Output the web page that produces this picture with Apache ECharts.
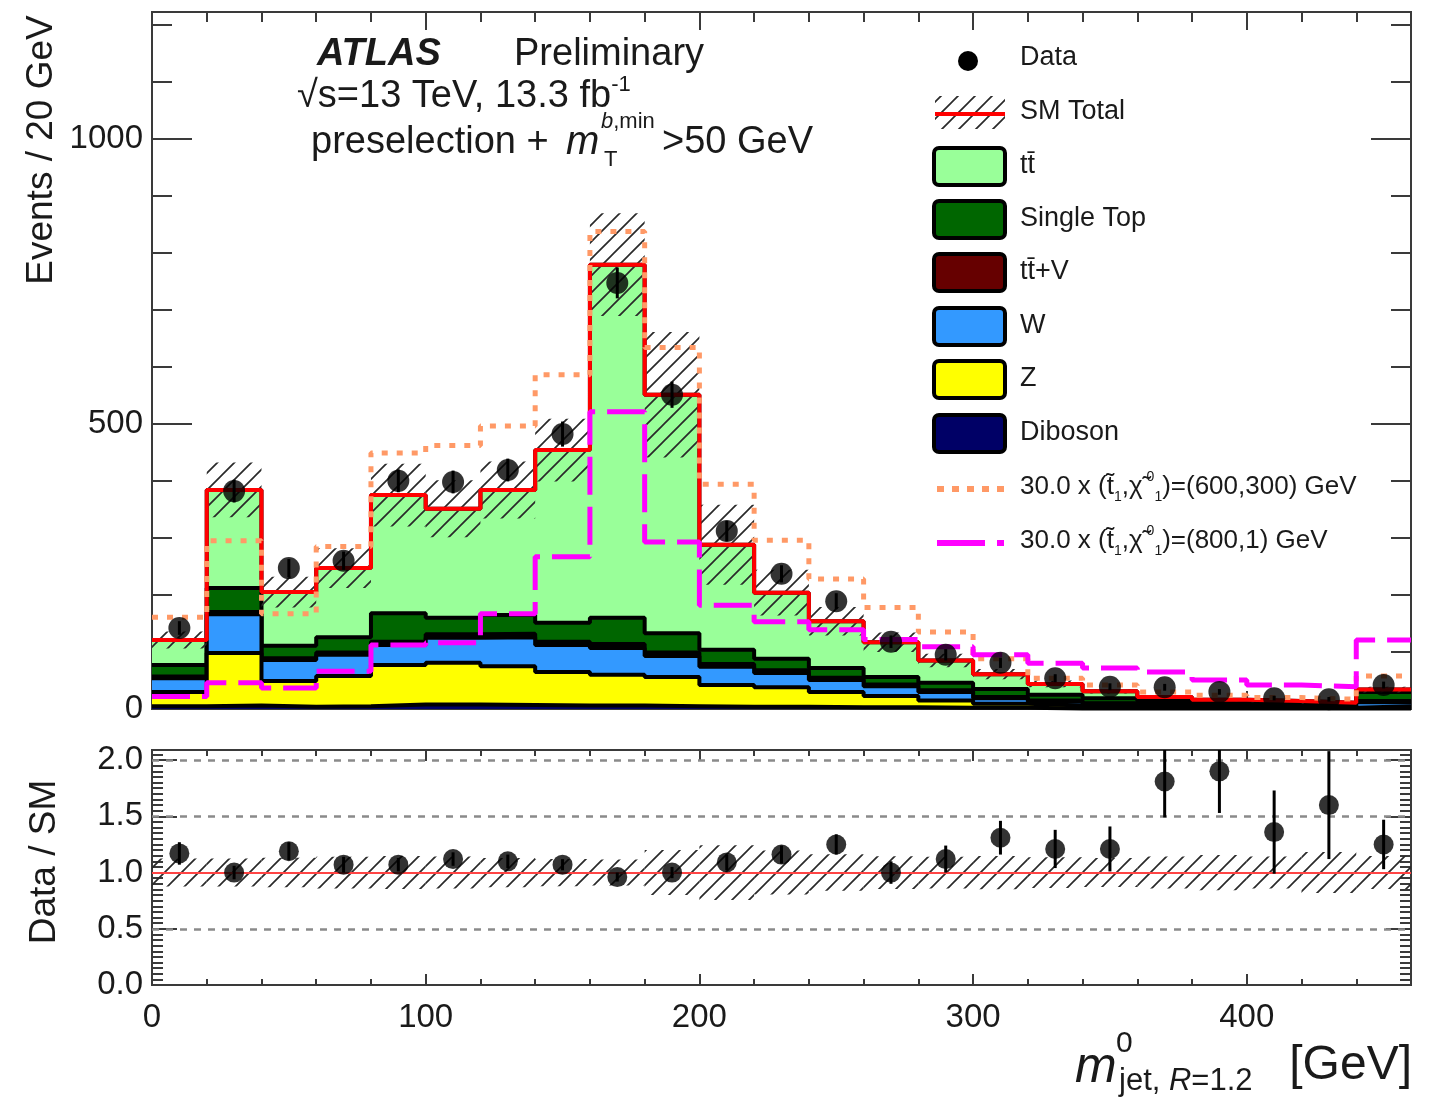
<!DOCTYPE html>
<html><head><meta charset="utf-8">
<script src="https://cdn.jsdelivr.net/npm/echarts@6/dist/echarts.min.js"></script>
<style>html,body{margin:0;padding:0;background:#fff}#c{width:1430px;height:1099px}</style>
</head><body><div id="c"></div>
<script>
// ---------------- data ----------------
const binEdges = [0,20,40,60,80,100,120,140,160,180,200,220,240,260,280,300,320,340,360,380,400,420,440,460];
const diboson  = [5,6,4,5,8,8,7,6,6,5,4,4,3,3,2,2,1,1,1,1,1,1,1];
const zjets    = [25,92,45,53,69,73,68,59,54,51,38,34,27,20,13,7,5,3,2,2,1,1,4];
const wjets    = [24,68,37,37,35,44,51,47,47,37,32,25,21,17,15,10,7,5,4,3,3,2,7];
const ttV      = [3,4,3,4,6,6,6,6,7,6,5,5,4,3,3,2,2,1,1,1,1,1,2];
const singleTop= [20,42,22,27,50,29,33,33,46,34,25,20,17,13,13,14,10,9,6,4,4,3,16];
const ttbar    = [44,172,94,121,207,191,219,303,619,418,184,116,82,61,39,26,19,12,7,5,4,3,4];
const smErr    = [15,48,27,35,55,50,50,55,90,110,70,40,25,17,12,9,6,4,3,2.5,2,2,5];
const dataVals = [142,382,247,260,400,398,419,482,747,551,312,237,189,118,95,81,54,39,38,30,19,17,42];
const dataErr  = [12,20,16,16,20,20,20,22,27,23,18,15,14,11,10,9,7,6,6,5,4,4,6];
const sig600_300 = [161,295,167,285,449,462,496,586,837,634,394,296,228,178,135,88,54,42,30,24,20,17,58];
const sig800_1   = [22,46,37,66,112,116,167,267,521,293,182,153,139,122,109,95,80,72,65,51,42,39,121];
const ratioVals = [1.17,1.0,1.19,1.07,1.07,1.12,1.10,1.07,0.96,1.0,1.09,1.16,1.25,1.0,1.12,1.31,1.21,1.21,1.81,1.90,1.36,1.60,1.25];
const ratioErr  = [0.10,0.06,0.08,0.07,0.06,0.06,0.06,0.05,0.04,0.05,0.07,0.08,0.09,0.10,0.12,0.15,0.17,0.20,0.32,0.37,0.37,0.48,0.22];
const xTickLabels = [0,100,200,300,400];
const yTickLabels = [0,500,1000];
const ratioTickLabels = ['0.0','0.5','1.0','1.5','2.0'];

// ---------------- helpers ----------------
const X_MAX = 460, Y_MAX = 1222, R_MAX = 2.09;
const FONT = '"Liberation Sans", Arial, Helvetica, sans-serif';
const nB = dataVals.length;
const centers = binEdges.slice(0, nB).map((e, i) => (e + binEdges[i + 1]) / 2);

// cumulative stack (bottom -> top)
const comps = [
  {name:'Diboson', vals:diboson, color:'#000066'},
  {name:'Z', vals:zjets, color:'#ffff00'},
  {name:'W', vals:wjets, color:'#3399ff'},
  {name:'tt+V', vals:ttV, color:'#660000'},
  {name:'Single Top', vals:singleTop, color:'#006600'},
  {name:'ttbar', vals:ttbar, color:'#99ff99'}
];
let run = new Array(nB).fill(0);
comps.forEach(c => { run = run.map((v, i) => v + c.vals[i]); c.cum = run.slice(); });
const smTotal = run.slice();

function stepData(vals) {
  const d = vals.map((v, i) => [binEdges[i], v]);
  d.push([binEdges[nB], vals[nB - 1]]);
  return d;
}

const hatchCanvas = (function () {
  const s = 17, c = document.createElement('canvas');
  c.width = s; c.height = s;
  const g = c.getContext('2d');
  g.strokeStyle = '#2a2a2a'; g.lineWidth = 1.7;
  g.beginPath();
  g.moveTo(0, s); g.lineTo(s, 0);
  g.moveTo(-s / 2, s / 2); g.lineTo(s / 2, -s / 2);
  g.moveTo(s / 2, s * 1.5); g.lineTo(s * 1.5, s / 2);
  g.stroke();
  return c;
})();
const hatchFill = {image: hatchCanvas, repeat: 'repeat'};

const AXC = {color: '#3a3a3a', width: 2};
const labelStyle = {color: '#1a1a1a', fontFamily: FONT, fontSize: 33};

function xAxisDef(grid, pos, interval, len, showLabel) {
  return {
    type: 'value', gridIndex: grid, position: pos, min: 0, max: X_MAX, interval: interval,
    axisLine: {show: true, onZero: false, lineStyle: AXC},
    axisTick: {show: true, inside: true, length: len, lineStyle: AXC},
    axisLabel: showLabel ? Object.assign({show: true, margin: 16, showMaxLabel: false,
      formatter: v => (xTickLabels.indexOf(v) >= 0 ? String(v) : '')}, labelStyle) : {show: false},
    splitLine: {show: false}
  };
}
function yAxisDef(grid, pos, max, interval, len, formatter) {
  return {
    type: 'value', gridIndex: grid, position: pos, min: 0, max: max, interval: interval,
    axisLine: {show: true, onZero: false, lineStyle: AXC},
    axisTick: {show: true, inside: true, length: len, lineStyle: AXC},
    axisLabel: formatter ? Object.assign({show: true, margin: 9, showMaxLabel: false, formatter: formatter}, labelStyle) : {show: false},
    splitLine: {show: false}
  };
}

const xAxes = [
  xAxisDef(0, 'bottom', 100, 18, false), xAxisDef(0, 'bottom', 20, 10, false),
  xAxisDef(0, 'top', 100, 18, false), xAxisDef(0, 'top', 20, 10, false),
  xAxisDef(1, 'bottom', 100, 11, true), xAxisDef(1, 'bottom', 20, 6, false),
  xAxisDef(1, 'top', 100, 11, false), xAxisDef(1, 'top', 20, 6, false)
];
const yAxes = [
  yAxisDef(0, 'left', Y_MAX, 500, 40, v => (yTickLabels.indexOf(v) >= 0 ? String(v) : '')),
  yAxisDef(0, 'left', Y_MAX, 100, 20, null),
  yAxisDef(0, 'right', Y_MAX, 500, 40, null),
  yAxisDef(0, 'right', Y_MAX, 100, 20, null),
  yAxisDef(1, 'left', R_MAX, 0.5, 25, v => { const k = Math.round(v * 2); return (Math.abs(v * 2 - k) < 1e-6 && k >= 0 && k < ratioTickLabels.length) ? ratioTickLabels[k] : ''; }),
  yAxisDef(1, 'left', R_MAX, 0.05, 11, null),
  yAxisDef(1, 'right', R_MAX, 0.5, 25, null),
  yAxisDef(1, 'right', R_MAX, 0.05, 11, null)
];

const series = [];
// stack (painter's order: top-most cumulative first)
comps.slice().reverse().forEach((c, k) => {
  series.push({
    name: c.name, type: 'line', xAxisIndex: 0, yAxisIndex: 0, step: 'end',
    data: stepData(c.cum), symbol: 'none', silent: true, z: 2 + k,
    lineStyle: {color: '#000', width: 4}, areaStyle: {color: c.color, opacity: 1}
  });
});
// SM uncertainty hatch (top)
function bandRender(yMin, yMax) {
  return function (params, api) {
    const x0 = api.value(0), x1 = api.value(1);
    const lo = Math.max(api.value(2), yMin), hi = Math.min(api.value(3), yMax);
    const a = api.coord([x0, hi]), b = api.coord([x1, lo]);
    return {type: 'rect', shape: {x: a[0], y: a[1], width: b[0] - a[0], height: b[1] - a[1]}, style: {fill: hatchFill}};
  };
}
series.push({
  type: 'custom', xAxisIndex: 0, yAxisIndex: 0, z: 9, silent: true,
  encode: {x: [0, 1], y: [2, 3]},
  data: smTotal.map((v, i) => [binEdges[i], binEdges[i + 1], v - smErr[i], v + smErr[i]]),
  renderItem: bandRender(0, Y_MAX)
});
// SM total red line
series.push({
  type: 'line', xAxisIndex: 0, yAxisIndex: 0, step: 'end', data: stepData(smTotal),
  symbol: 'none', silent: true, z: 10, lineStyle: {color: '#ff0000', width: 4}
});
// signals
series.push({
  type: 'line', xAxisIndex: 0, yAxisIndex: 0, step: 'end', data: stepData(sig600_300),
  symbol: 'none', silent: true, z: 11, lineStyle: {color: '#ff9966', width: 5, type: [6, 9]}
});
series.push({
  type: 'line', xAxisIndex: 0, yAxisIndex: 0, step: 'end', data: stepData(sig800_1),
  symbol: 'none', silent: true, z: 11, lineStyle: {color: '#ff00ff', width: 5, type: [38, 12]}
});
// data error bars + points (top)
function errRender(yMin, yMax) {
  return function (params, api) {
    const x = api.value(0);
    const lo = Math.max(api.value(1), yMin), hi = Math.min(api.value(2), yMax);
    const a = api.coord([x, hi]), b = api.coord([x, lo]);
    return {type: 'line', shape: {x1: a[0], y1: a[1], x2: b[0], y2: b[1]}, style: {stroke: '#000', lineWidth: 3}};
  };
}
series.push({
  type: 'custom', xAxisIndex: 0, yAxisIndex: 0, z: 12, silent: true,
  encode: {x: 0, y: [1, 2]},
  data: dataVals.map((v, i) => [centers[i], v - dataErr[i], v + dataErr[i]]),
  renderItem: errRender(0, Y_MAX)
});
series.push({
  type: 'scatter', xAxisIndex: 0, yAxisIndex: 0, z: 13, silent: true,
  symbol: 'circle', symbolSize: 22, itemStyle: {color: '#000'},
  data: dataVals.map((v, i) => [centers[i], v])
});
// ratio panel
series.push({
  type: 'custom', xAxisIndex: 4, yAxisIndex: 4, z: 3, silent: true,
  encode: {x: [0, 1], y: [2, 3]},
  data: smTotal.map((v, i) => [binEdges[i], binEdges[i + 1], 1 - smErr[i] / v, 1 + smErr[i] / v]),
  renderItem: bandRender(0, R_MAX)
});
series.push({
  type: 'custom', xAxisIndex: 4, yAxisIndex: 4, z: 12, silent: true,
  encode: {x: 0, y: [1, 2]},
  data: ratioVals.map((v, i) => [centers[i], v - ratioErr[i], v + ratioErr[i]]),
  renderItem: errRender(0, R_MAX)
});
series.push({
  type: 'scatter', xAxisIndex: 4, yAxisIndex: 4, z: 13, silent: true,
  symbol: 'circle', symbolSize: 20, itemStyle: {color: '#000'},
  data: ratioVals.map((v, i) => [centers[i], v]),
  markLine: {
    silent: true, symbol: 'none', label: {show: false}, animation: false,
    data: [
      {yAxis: 0.5, lineStyle: {color: '#8a8a8a', width: 2.5, type: [7, 7]}},
      {yAxis: 1.5, lineStyle: {color: '#8a8a8a', width: 2.5, type: [7, 7]}},
      {yAxis: 2.0, lineStyle: {color: '#8a8a8a', width: 2.5, type: [7, 7]}},
      {yAxis: 1.0, lineStyle: {color: '#ff4444', width: 2, type: 'solid'}}
    ]
  }
});

// ---------------- legend & texts (graphic) ----------------
const TXT = '#1a1a1a';
function txt(x, y, text, size, extra) {
  return {type: 'text', x: x, y: y, z: 100, silent: true,
    style: Object.assign({text: text, fill: TXT, fontFamily: FONT, fontSize: size, align: 'left', verticalAlign: 'middle'}, extra || {})};
}
const legRows = [58, 112, 166, 219, 272, 326, 379, 433, 487, 541];
const g = [];
// Data
g.push({type: 'circle', z: 100, shape: {cx: 968, cy: legRows[0] + 3, r: 10}, style: {fill: '#000'}});
g.push(txt(1020, legRows[0], 'Data', 27));
// SM Total
g.push({type: 'rect', z: 100, shape: {x: 935, y: legRows[1] - 16, width: 70, height: 33}, style: {fill: hatchFill}});
g.push({type: 'line', z: 101, shape: {x1: 935, y1: legRows[1] + 2, x2: 1005, y2: legRows[1] + 2}, style: {stroke: '#ff0000', lineWidth: 4}});
g.push(txt(1020, legRows[1], 'SM Total', 27));
// filled entries
const legFill = [
  ['tt\u0304', '#99ff99'], ['Single Top', '#006600'], ['tt\u0304+V', '#660000'],
  ['W', '#3399ff'], ['Z', '#ffff00'], ['Diboson', '#000066']
];
legFill.forEach((e, k) => {
  const cy = legRows[2 + k];
  g.push({type: 'rect', z: 100, shape: {x: 934, y: cy - 18, width: 71, height: 37, r: 5}, style: {fill: e[1], stroke: '#000', lineWidth: 4}});
  g.push(txt(1020, cy, e[0], 27));
});
// signal entries
g.push({type: 'line', z: 100, shape: {x1: 937, y1: legRows[8] + 2, x2: 1004, y2: legRows[8] + 2}, style: {stroke: '#ff9966', lineWidth: 6, lineDash: [7, 8]}});
g.push({type: 'line', z: 100, shape: {x1: 937, y1: legRows[9] + 2, x2: 985, y2: legRows[9] + 2}, style: {stroke: '#ff00ff', lineWidth: 6}});
g.push({type: 'line', z: 100, shape: {x1: 997, y1: legRows[9] + 2, x2: 1004, y2: legRows[9] + 2}, style: {stroke: '#ff00ff', lineWidth: 6}});
const sigRich = {
  s: {fontSize: 14, fontFamily: FONT, fill: TXT, verticalAlign: 'bottom', lineHeight: 34},
  p: {fontSize: 14, fontFamily: FONT, fill: TXT, verticalAlign: 'top', lineHeight: 34, padding: [0, 0, 0, 4]},
  n: {fontSize: 26, fontFamily: FONT, fill: TXT, lineHeight: 34}
};
g.push(txt(1020, legRows[8], '{n|30.0 x (t\u0303}{s|1}{n|,\u03c7\u0303}{p|0}{s|1}{n|)=(600,300) GeV}', 26, {rich: sigRich}));
g.push(txt(1020, legRows[9], '{n|30.0 x (t\u0303}{s|1}{n|,\u03c7\u0303}{p|0}{s|1}{n|)=(800,1) GeV}', 26, {rich: sigRich}));

// ATLAS header
g.push(txt(317, 55, 'ATLAS', 38, {fontWeight: 'bold', fontStyle: 'italic'}));
g.push(txt(514, 55, 'Preliminary', 38));
g.push(txt(297, 97, '{a|\u221as=13 TeV, 13.3 fb}{b|-1}', 38, {rich: {
  a: {fontSize: 38, fontFamily: FONT, fill: TXT, lineHeight: 46},
  b: {fontSize: 22, fontFamily: FONT, fill: TXT, verticalAlign: 'top', lineHeight: 46}}}));
g.push(txt(311, 143, 'preselection + ', 38));
g.push(txt(566, 143, 'm', 40, {fontStyle: 'italic'}));
g.push(txt(601, 122, '{i|b}{r|,min}', 22, {rich: {
  i: {fontSize: 22, fontFamily: FONT, fill: TXT, fontStyle: 'italic'},
  r: {fontSize: 22, fontFamily: FONT, fill: TXT}}}));
g.push(txt(604, 160, 'T', 22));
g.push(txt(662, 143, '>50 GeV', 38));

// axis titles
g.push({type: 'text', x: 42, y: 150, rotation: Math.PI / 2, z: 100, silent: true,
  style: {text: 'Events / 20 GeV', fill: TXT, fontFamily: FONT, fontSize: 37, align: 'center', verticalAlign: 'middle'}});
g.push({type: 'text', x: 45, y: 862, rotation: Math.PI / 2, z: 100, silent: true,
  style: {text: 'Data / SM', fill: TXT, fontFamily: FONT, fontSize: 37, align: 'center', verticalAlign: 'middle'}});
g.push(txt(1075, 1068, 'm', 50, {fontStyle: 'italic'}));
g.push(txt(1116, 1044, '0', 30));
g.push(txt(1119, 1081, '{a|jet, }{b|R}{a|=1.2}', 31, {rich: {
  a: {fontSize: 31, fontFamily: FONT, fill: TXT},
  b: {fontSize: 31, fontFamily: FONT, fill: TXT, fontStyle: 'italic'}}}));
g.push(txt(1412, 1066, '[GeV]', 48, {align: 'right'}));

const chart = echarts.init(document.getElementById('c'), null, {renderer: 'canvas'});
chart.setOption({
  animation: false,
  backgroundColor: '#fff',
  grid: [
    {left: 152, top: 12, width: 1259, height: 697, containLabel: false},
    {left: 152, top: 750, width: 1259, height: 235, containLabel: false}
  ],
  xAxis: xAxes,
  yAxis: yAxes,
  series: series,
  graphic: g
});
</script>
</body></html>
